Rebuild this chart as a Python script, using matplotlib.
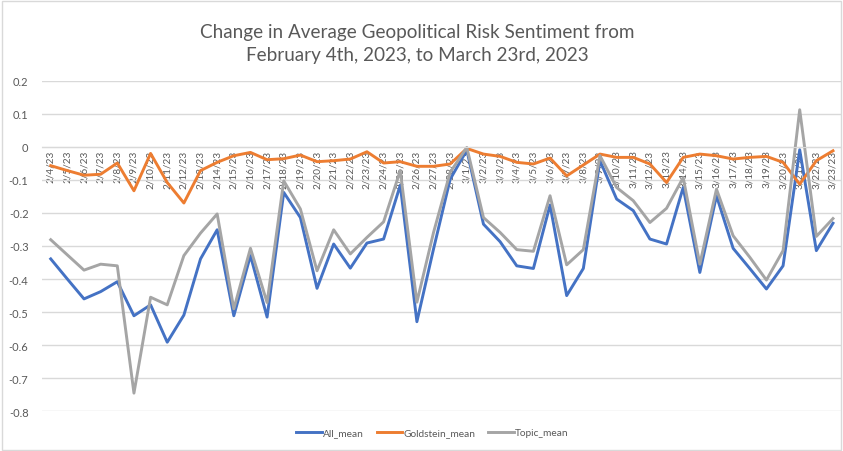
import matplotlib
matplotlib.use("Agg")
import matplotlib.pyplot as plt
from matplotlib.ticker import FuncFormatter
from matplotlib.patches import Rectangle

dates = ["2/4/23", "2/5/23", "2/6/23", "2/7/23", "2/8/23", "2/9/23", "2/10/23", "2/11/23",
         "2/12/23", "2/13/23", "2/14/23", "2/15/23", "2/16/23", "2/17/23", "2/18/23", "2/19/23",
         "2/20/23", "2/21/23", "2/22/23", "2/23/23", "2/24/23", "2/25/23", "2/26/23", "2/27/23",
         "2/28/23", "3/1/23", "3/2/23", "3/3/23", "3/4/23", "3/5/23", "3/6/23", "3/7/23",
         "3/8/23", "3/9/23", "3/10/23", "3/11/23", "3/12/23", "3/13/23", "3/14/23", "3/15/23",
         "3/16/23", "3/17/23", "3/18/23", "3/19/23", "3/20/23", "3/21/23", "3/22/23", "3/23/23"]

all_mean = [-0.339, -0.400, -0.460, -0.438, -0.408, -0.511, -0.478, -0.591,
            -0.509, -0.339, -0.251, -0.511, -0.329, -0.515, -0.138, -0.214,
            -0.428, -0.294, -0.367, -0.291, -0.279, -0.116, -0.529, -0.309,
            -0.098, -0.010, -0.234, -0.287, -0.360, -0.368, -0.176, -0.450,
            -0.368, -0.042, -0.158, -0.193, -0.279, -0.294, -0.123, -0.380,
            -0.148, -0.307, -0.368, -0.430, -0.360, -0.009, -0.314, -0.231]

goldstein_mean = [-0.057, -0.072, -0.086, -0.083, -0.049, -0.133, -0.020, -0.108,
                  -0.170, -0.072, -0.047, -0.027, -0.017, -0.039, -0.036, -0.025,
                  -0.045, -0.042, -0.037, -0.015, -0.049, -0.045, -0.059, -0.059,
                  -0.052, -0.005, -0.022, -0.029, -0.047, -0.052, -0.034, -0.088,
                  -0.055, -0.022, -0.032, -0.032, -0.052, -0.108, -0.032, -0.022,
                  -0.027, -0.037, -0.032, -0.029, -0.047, -0.113, -0.042, -0.012]

topic_mean = [-0.281, -0.327, -0.373, -0.355, -0.360, -0.745, -0.455, -0.478,
              -0.329, -0.261, -0.203, -0.490, -0.307, -0.471, -0.103, -0.188,
              -0.375, -0.251, -0.324, -0.274, -0.227, -0.072, -0.470, -0.259,
              -0.077, -0.002, -0.214, -0.259, -0.311, -0.316, -0.148, -0.357,
              -0.311, -0.027, -0.123, -0.163, -0.229, -0.186, -0.093, -0.355,
              -0.128, -0.269, -0.334, -0.403, -0.314, 0.112, -0.271, -0.217]

yticks = [0.2, 0.1, 0, -0.1, -0.2, -0.3, -0.4, -0.5, -0.6, -0.7, -0.8]

plt.rcParams["font.family"] = ["Lato", "DejaVu Sans"]
text_color = "#595959"
grid_color = "#D9D9D9"

fig = plt.figure(figsize=(8.43, 4.52), dpi=100)
fig.patches.append(Rectangle((0.002, 0.002), 0.996, 0.994, transform=fig.transFigure,
                             fill=False, edgecolor=grid_color, linewidth=1))
ax = fig.add_axes([0.0503, 0.0878, 0.9477, 0.7315])

x = list(range(len(dates)))
ax.plot(x, all_mean, color="#4472C4", lw=2.1, label="All_mean", solid_joinstyle="round")
ax.plot(x, goldstein_mean, color="#ED7D31", lw=2.1, label="Goldstein_mean", solid_joinstyle="round")
ax.plot(x, topic_mean, color="#A5A5A5", lw=2.1, label="Topic_mean", solid_joinstyle="round")

ax.set_xlim(-0.5, len(dates) - 0.5)
ax.set_ylim(-0.8, 0.2)
ax.set_yticks(yticks)
# Excel style labels: plain hyphen, bare "0"
ax.yaxis.set_major_formatter(FuncFormatter(lambda v, p: "0" if abs(v) < 1e-9 else f"{v:g}"))
ax.grid(axis="y", color=grid_color, lw=1)
ax.set_axisbelow(True)

for s in ["top", "right", "left"]:
    ax.spines[s].set_visible(False)
ax.spines["bottom"].set_position(("data", 0))
ax.spines["bottom"].set_color(grid_color)

ax.set_xticks(x)
ax.set_xticklabels(dates, rotation=90, fontsize=7.2, color=text_color)
ax.tick_params(axis="x", length=0, pad=2)
ax.tick_params(axis="y", length=0, labelsize=8, labelcolor=text_color, pad=10)

fig.text(0.495, 0.929, "Change in Average Geopolitical Risk Sentiment from", ha="center",
         va="center", fontsize=13.6, color=text_color)
fig.text(0.495, 0.878, "February 4th, 2023, to March 23rd, 2023", ha="center",
         va="center", fontsize=13.6, color=text_color)

fig.legend(loc="center", bbox_to_anchor=(0.513, 0.04), ncol=3, frameon=False,
           fontsize=7.3, labelcolor=text_color, handlelength=2.5, handletextpad=0.1,
           columnspacing=1.3)

fig.savefig("out.png", dpi=100)
